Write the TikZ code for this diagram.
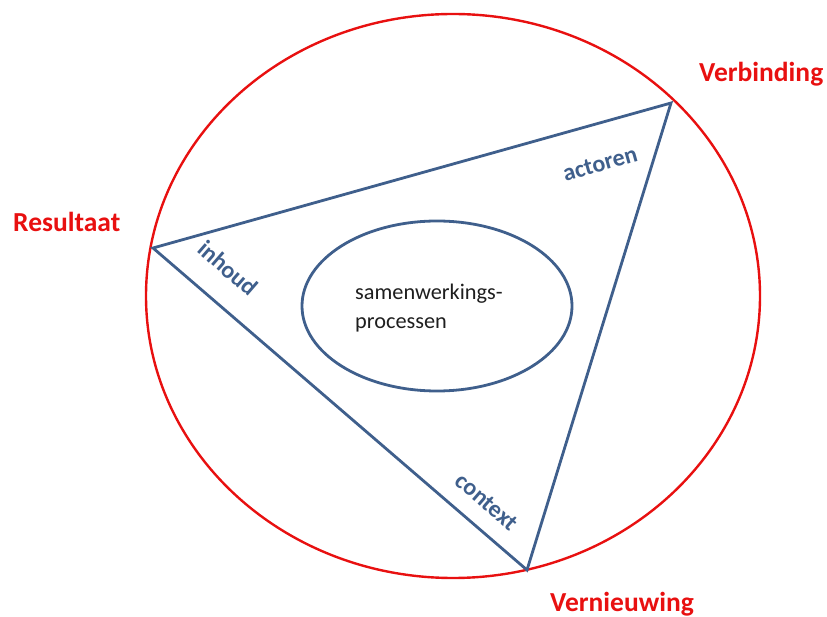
\documentclass[tikz,border=0pt]{standalone}
\usepackage{fontspec}
\setmainfont{Carlito}
\definecolor{ringred}{RGB}{232,16,16}
\definecolor{triblue}{RGB}{63,95,140}
\definecolor{txtdark}{RGB}{30,30,30}
\tikzset{
  redlabel/.style={text=ringred, font=\bfseries\fontsize{27.5}{30}\selectfont, inner sep=0pt, anchor=base west},
  edgelabel/.style={text=triblue, font=\bfseries\fontsize{24}{26}\selectfont, inner sep=0pt},
  ring/.style={draw=ringred, line width=2.4pt},
  tri/.style={draw=triblue, line width=2.8pt, line join=miter},
  core/.style={draw=triblue, line width=2.8pt, ellipse, minimum width=270pt, minimum height=170pt, inner sep=0pt}
}
\usetikzlibrary{shapes.geometric}
\begin{document}
\begin{tikzpicture}[x=1pt,y=-1pt]
\useasboundingbox (0,0) rectangle (827,617);
% outer circle
\draw[ring] (453,296) ellipse [x radius=307, y radius=282];
% triangle
\coordinate (R) at (153,248);
\coordinate (V) at (671,103);
\coordinate (N) at (527,570);
\draw[tri] (R) -- (V) -- (N) -- cycle;
% inner ellipse
\node[core] (proc) at (437,306) {};
\node[inner sep=0pt, anchor=base west, text=txtdark, font=\fontsize{22.3}{29}\selectfont] (t1) at (355,300) {samenwerkings-};
\node[inner sep=0pt, anchor=base west, text=txtdark, font=\fontsize{22.3}{29}\selectfont] (t2) at (355,329) {processen};
% corner labels
\node[redlabel] (res) at (13,232) {Resultaat};
\node[redlabel] (ver) at (699,82) {Verbinding};
\node[redlabel] (vern) at (550,611) {Vernieuwing};
% edge labels
\node[edgelabel, rotate=15.6] (act) at (600,164) {actoren};
\node[edgelabel, rotate=-41] (inh) at (228,268) {inhoud};
\node[edgelabel, rotate=-41] (ctx) at (487,502) {context};
\end{tikzpicture}
\end{document}
